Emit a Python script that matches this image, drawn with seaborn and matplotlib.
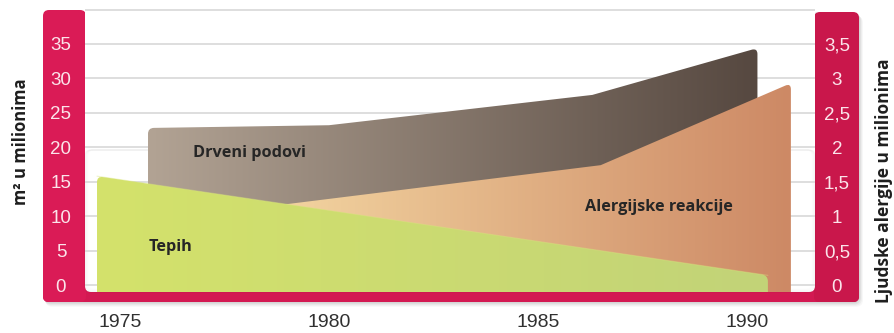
import numpy as np
import matplotlib
matplotlib.use("Agg")
import matplotlib.pyplot as plt
import seaborn as sns
from matplotlib.colors import LinearSegmentedColormap
from matplotlib.patches import PathPatch, FancyBboxPatch
from matplotlib.path import Path
from matplotlib.transforms import Affine2D

# --- data -------------------------------------------------------------
tepih_years = [1974.45, 1990.5]
tepih_m2 = [15.8, 1.4]                      # carpet, m² in millions

podovi_years = [1975.67, 1980.0, 1986.3, 1990.25]
podovi_m2 = [22.8, 23.2, 27.6, 34.4]        # wooden floors, m² in millions

alergije_years = [1978.0, 1979.2, 1986.5, 1991.05]
alergije_mil = [1.10, 1.19, 1.74, 2.93]     # allergic reactions, millions of people

left_ticks = [0, 5, 10, 15, 20, 25, 30, 35, 40]
left_labels = ["0", "5", "10", "15", "20", "25", "30", "35", ""]
right_ticks = [0, 0.5, 1, 1.5, 2, 2.5, 3, 3.5]
right_labels = ["0", "0,5", "1", "1,5", "2", "2,5", "3", "3,5"]
year_ticks = [1975, 1980, 1985, 1990]

# --- style ------------------------------------------------------------
sns.set_theme(style="whitegrid")
plt.rcParams["font.family"] = ["Liberation Sans", "DejaVu Sans"]

W, H = 895, 333
fig = plt.figure(figsize=(W / 100, H / 100), dpi=100)
fig.patch.set_facecolor("white")

# pixel coordinate system (origin top-left) for the frame decorations
px = Affine2D().scale(1, -1).translate(0, H).scale(1 / W, 1 / H) + fig.transFigure

RED_L = "#da1b56"
RED_R = "#c9174b"
RED_B = "#d31952"


def rbox(x0, y0, x1, y1, r, **kw):
    p = FancyBboxPatch((x0, y0), x1 - x0, y1 - y0,
                       boxstyle=f"round,pad=0,rounding_size={r}",
                       transform=px, **kw)
    fig.add_artist(p)
    return p


# drop shadow of the frame
for i, a in enumerate([0.05, 0.05, 0.05, 0.04, 0.03]):
    rbox(43 + i * 0.6, 12 + i, 859 + i, 302 + i * 1.2, 7, facecolor="#000000",
         edgecolor="none", alpha=a, zorder=-5)

# red U-shaped frame
rbox(43, 10, 86, 302, 6, facecolor=RED_L, edgecolor="none", zorder=-4)
rbox(814, 12, 859, 302, 6, facecolor=RED_R, edgecolor="none", zorder=-4)
rbox(43, 270, 859, 302, 6, facecolor=RED_B, edgecolor="none", zorder=-4.5)
rbox(43, 200, 86, 302, 6, facecolor=RED_L, edgecolor="none", zorder=-4.2)
rbox(814, 200, 859, 302, 6, facecolor=RED_R, edgecolor="none", zorder=-4.2)

# white plot area with a faint inner shadow along the bottom corners
rbox(85, -20, 815, 292, 6, facecolor="white", edgecolor="none", zorder=-3)
for i in range(4):
    rbox(85 + i, 150, 815 - i, 292 - i, 6, facecolor="none",
         edgecolor="#000000", lw=1.0, alpha=0.03 * (4 - i) / 4, zorder=-2.9)

# --- main axes --------------------------------------------------------
ax_l, ax_r, ax_t, ax_b = 85, 815, 8, 292
ax = fig.add_axes([ax_l / W, 1 - ax_b / H, (ax_r - ax_l) / W, (ax_b - ax_t) / H])
ax.set_facecolor("none")

XMIN, XMAX = 1974.163, 1991.627
YMIN, YMAX = -1.016, 40.22
SX = (ax_r - ax_l) / (XMAX - XMIN)   # pixels per year
SY = (ax_b - ax_t) / (YMAX - YMIN)   # pixels per unit


def rounded_outline(x, y, r=6.0):
    """Closed outline of the area under (x, y) with rounded top corners."""
    pts = [(x[0], YMIN)] + list(zip(x, y)) + [(x[-1], YMIN)]
    corners = {1, len(pts) - 2}
    verts, codes = [], []
    for i, (vx, vy) in enumerate(pts):
        if i in corners:
            (ax_, ay_), (bx_, by_) = pts[i - 1], pts[i + 1]
            d1 = np.array([(ax_ - vx) * SX, (ay_ - vy) * SY])
            d2 = np.array([(bx_ - vx) * SX, (by_ - vy) * SY])
            rr = min(r, np.linalg.norm(d1) / 2, np.linalg.norm(d2) / 2)
            p1 = d1 / np.linalg.norm(d1) * rr
            p2 = d2 / np.linalg.norm(d2) * rr
            verts += [(vx + p1[0] / SX, vy + p1[1] / SY), (vx, vy),
                      (vx + p2[0] / SX, vy + p2[1] / SY)]
            codes += [Path.LINETO, Path.CURVE3, Path.CURVE3]
        else:
            verts.append((vx, vy))
            codes.append(Path.LINETO)
    codes[0] = Path.MOVETO
    verts.append(pts[0])
    codes.append(Path.CLOSEPOLY)
    return Path(verts, codes)


def gradient_area(x, y, c_left, c_right, z):
    # the filled area, shaded by a left-to-right gradient
    poly = ax.fill_between(x, y, YMIN, color="none", lw=0)
    cmap = LinearSegmentedColormap.from_list("g", [c_left, c_right])
    grad = np.linspace(0, 1, 256).reshape(1, -1)
    im = ax.imshow(grad, cmap=cmap, aspect="auto", origin="lower",
                   extent=[x[0], x[-1], YMIN, max(y) + 1], zorder=z,
                   interpolation="bilinear")
    clip = PathPatch(rounded_outline(x, y), transform=ax.transData,
                     facecolor="none", edgecolor="none")
    ax.add_patch(clip)
    im.set_clip_path(clip)
    return poly


alergije_scaled = [v * 10 for v in alergije_mil]

gradient_area(podovi_years, podovi_m2, "#b2a394", "#564840", 2)
gradient_area(alergije_years, alergije_scaled, "#f5d9a4", "#cd8965", 3)
gradient_area(tepih_years, tepih_m2, "#d4e26b", "#c2d378", 4)

# soft light rim along the inner part of the carpet's top edge
sns.lineplot(x=tepih_years, y=tepih_m2, ax=ax, color="#d9e57e",
             lw=0.8, alpha=0.4, zorder=4.5)

ax.set_xlim(XMIN, XMAX)
ax.set_ylim(YMIN, YMAX)

for s in ax.spines.values():
    s.set_visible(False)
ax.grid(axis="x", visible=False)
ax.grid(axis="y", color="#dedede", lw=1.4)
ax.set_axisbelow(True)

tick_color = "#fbe4ea"
ax.set_yticks(left_ticks, labels=left_labels, ha="center", color=tick_color,
              fontsize=13.5)
ax.tick_params(axis="y", length=0, pad=17.3)
ax.set_xticks(year_ticks, labels=[str(y) for y in year_ticks],
              color="#303030", fontsize=14)
ax.tick_params(axis="x", length=0, pad=16)

sec = ax.secondary_yaxis("right", functions=(lambda v: v / 10, lambda v: v * 10))
sec.set_yticks(right_ticks, labels=right_labels, ha="center", color=tick_color,
               fontsize=13.5)
sec.tick_params(axis="y", length=0, pad=15.8)
for s in sec.spines.values():
    s.set_visible(False)

# series names inside the areas
lab = dict(fontfamily=["Open Sans", "DejaVu Sans"], fontweight="bold",
           color="#262626", ha="center", va="center", fontsize=11.7, zorder=6)
ax.text(1978.09, 19.2, "Drveni podovi", **lab)
ax.text(1976.2, 5.5, "Tepih", **lab)
ax.text(1987.9, 11.3, "Alergijske reakcije", **lab)

# axis titles
tl = dict(fontfamily=["Open Sans", "DejaVu Sans"], fontweight="bold",
          color="#1e1e1e", rotation=90, ha="center", va="center")
fig.text(21 / W, 1 - 142 / H, "m² u milionima", fontsize=12, **tl)
fig.text(884 / W, 1 - 181 / H, "Ljudske alergije u milionima", fontsize=12.5, **tl)

fig.savefig("out.png", dpi=100, facecolor="white")
